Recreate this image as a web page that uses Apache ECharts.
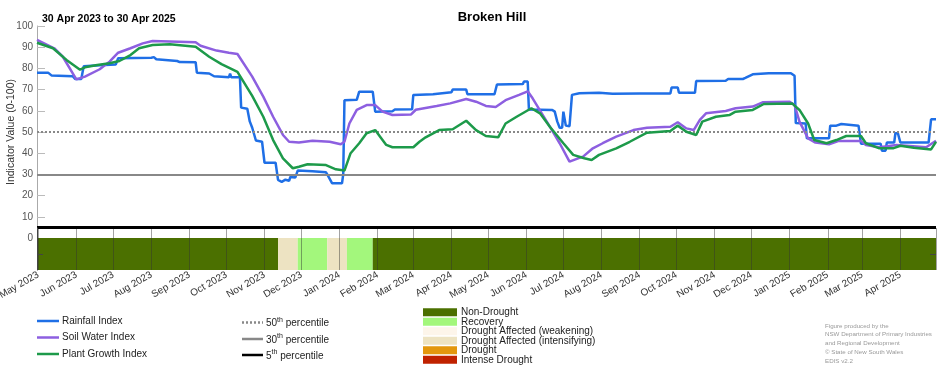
<!DOCTYPE html>
<html>
<head>
<meta charset="utf-8">
<script src="https://cdn.jsdelivr.net/npm/echarts@6/dist/echarts.min.js"></script>
<style>
html,body{margin:0;padding:0;background:#fff;}
#chart{width:952px;height:370px;}
</style>
</head>
<body>
<div id="chart"></div>
<script>
// ---------------- DATA ----------------
const chartTitle = 'Broken Hill';
const periodLabel = '30 Apr 2023 to 30 Apr 2025';
const dateMin = '2023-04-30';
const dateMax = '2025-04-30';
const monthNames = ['Jan','Feb','Mar','Apr','May','Jun','Jul','Aug','Sep','Oct','Nov','Dec'];
const yTickLabels = [0,10,20,30,40,50,60,70,80,90,100];

const rainfallIndex = [
 ['2023-04-30',78],['2023-05-09',78],['2023-05-12',76.6],['2023-05-29',76.3],['2023-05-31',75],['2023-06-05',75],
 ['2023-06-07',81],['2023-06-20',81.5],['2023-07-03',81.8],['2023-07-05',84.8],['2023-08-01',85],['2023-08-03',85.3],
 ['2023-08-05',84.3],['2023-08-22',83.5],['2023-08-24',83],['2023-09-06',82.9],['2023-09-07',78],['2023-09-17',77.6],
 ['2023-09-21',76.3],['2023-10-03',75.8],['2023-10-04',77.5],['2023-10-05',75.8],['2023-10-12',75.8],['2023-10-13',61.5],
 ['2023-10-18',61],['2023-10-20',55],['2023-10-22',52],['2023-10-25',46],['2023-10-30',45.4],['2023-11-01',35.5],
 ['2023-11-10',35.5],['2023-11-12',27.4],['2023-11-15',26.5],['2023-11-18',27.5],['2023-11-21',27],['2023-11-22',28.8],
 ['2023-11-26',28.5],['2023-11-28',31.8],['2023-12-10',31.5],['2023-12-21',31],['2023-12-22',30],['2023-12-26',25.8],
 ['2024-01-03',25.8],['2024-01-04',30],['2024-01-05',65],['2024-01-15',65.2],['2024-01-17',69],['2024-01-28',69],
 ['2024-01-30',59.6],['2024-02-13',59.8],['2024-02-15',60.6],['2024-02-29',60.7],['2024-03-01',67.5],['2024-03-17',67.8],
 ['2024-03-18',68.7],['2024-04-01',68.8],['2024-04-02',70],['2024-04-13',70],['2024-04-14',67.8],['2024-05-06',67.8],
 ['2024-05-08',72.4],['2024-05-29',72.6],['2024-05-30',73.8],['2024-06-02',73.8],['2024-06-03',60.6],['2024-06-22',60.4],
 ['2024-06-24',59.6],['2024-06-26',55],['2024-06-28',52],['2024-06-30',52],['2024-07-01',59.6],['2024-07-02',59.6],
 ['2024-07-03',53],['2024-07-06',52.7],['2024-07-08',67.5],['2024-07-14',68.3],['2024-07-30',68.5],['2024-08-10',68.0],
 ['2024-09-01',68.2],['2024-09-26',68.2],['2024-09-27',71],['2024-10-02',71],['2024-10-03',68.5],['2024-10-16',68.5],
 ['2024-10-17',74],['2024-11-10',74.2],['2024-11-12',75],['2024-11-24',75],['2024-11-26',75.5],['2024-12-02',77.2],
 ['2024-12-15',77.7],['2025-01-02',77.7],['2025-01-05',76.5],['2025-01-06',54.2],['2025-01-14',54],['2025-01-15',47],
 ['2025-02-02',47],['2025-02-03',53],['2025-02-08',53],['2025-02-09',53.8],['2025-02-12',53.8],['2025-02-13',53],
 ['2025-02-26',53],['2025-02-28',44.5],['2025-03-16',44.5],['2025-03-17',41.2],['2025-03-20',41.2],['2025-03-21',45],
 ['2025-03-27',45],['2025-03-28',49.4],['2025-03-30',49.4],['2025-04-01',45.1],['2025-04-24',45.1],['2025-04-26',56],
 ['2025-04-30',56]
];

const soilWaterIndex = [
 ['2023-04-30',93.4],['2023-05-14',89.5],['2023-05-21',85.5],['2023-06-01',74.8],['2023-06-08',76.1],['2023-06-20',79.6],
 ['2023-06-28',83.2],['2023-07-05',87.4],['2023-07-15',89.5],['2023-07-25',91.8],['2023-08-02',92.9],['2023-09-06',92.3],
 ['2023-09-10',90.7],['2023-09-23',88.4],['2023-10-03',87.4],['2023-10-10',86.8],['2023-10-22',76.1],['2023-10-31',66.7],
 ['2023-11-08',57.2],['2023-11-16',48.6],['2023-11-21',45.4],['2023-11-29',45],['2023-12-10',45.9],['2023-12-24',45.4],
 ['2024-01-02',44.2],['2024-01-05',45.4],['2024-01-09',54],['2024-01-15',60.4],['2024-01-23',62.7],['2024-01-30',62.7],
 ['2024-02-05',59.6],['2024-02-13',58],['2024-02-28',58.2],['2024-03-03',60.5],['2024-03-20',62.3],['2024-03-31',63.5],
 ['2024-04-13',65.6],['2024-04-21',64.3],['2024-04-29',62.3],['2024-05-07',61.8],['2024-05-15',65],['2024-05-26',67.5],
 ['2024-06-02',69.2],['2024-06-06',65.9],['2024-06-20',52.5],['2024-06-28',44.7],['2024-07-06',36],['2024-07-13',37.6],
 ['2024-07-17',38.4],['2024-07-25',42.3],['2024-08-02',44.7],['2024-08-13',47.8],['2024-08-27',50.9],['2024-09-07',52],
 ['2024-09-26',52.5],['2024-10-02',54.6],['2024-10-09',51.7],['2024-10-15',50.9],['2024-10-20',55.7],['2024-10-25',58.8],
 ['2024-11-10',59.9],['2024-11-18',61.2],['2024-12-02',62],['2024-12-10',64],['2025-01-01',64.3],['2025-01-05',62.7],
 ['2025-01-09',54.9],['2025-01-16',47],['2025-01-22',45],['2025-02-02',44.2],['2025-02-10',45.8],['2025-02-28',45.8],
 ['2025-03-04',43.9],['2025-03-15',42.8],['2025-03-29',43.9],['2025-04-22',42.8],['2025-04-30',45.9]
];

const plantGrowthIndex = [
 ['2023-04-30',92.1],['2023-05-13',89.5],['2023-05-24',84],['2023-06-04',79.4],['2023-06-08',80.5],['2023-06-18',81.6],
 ['2023-06-28',82.4],['2023-07-06',83.5],['2023-07-15',86.3],['2023-07-22',89.5],['2023-08-02',91],['2023-08-16',91.4],
 ['2023-09-06',90.2],['2023-09-17',85.5],['2023-09-27',82],['2023-10-10',78.4],['2023-10-22',67],['2023-10-31',57.2],
 ['2023-11-08',46.2],['2023-11-16',37.6],['2023-11-24',32.9],['2023-11-29',33.6],['2023-12-06',34.8],['2023-12-21',34.4],
 ['2023-12-29',32.4],['2024-01-05',31.8],['2024-01-10',40],['2024-01-17',44.7],['2024-01-23',49.4],['2024-01-30',50.9],
 ['2024-02-03',47.8],['2024-02-08',43.9],['2024-02-13',42.8],['2024-03-01',42.8],['2024-03-06',45.4],['2024-03-11',47.5],
 ['2024-03-22',50.9],['2024-04-02',51.3],['2024-04-13',55.3],['2024-04-21',50.9],['2024-04-29',48.1],['2024-05-09',47.5],
 ['2024-05-15',54],['2024-05-24',57.2],['2024-06-05',61.2],['2024-06-12',58.8],['2024-06-20',52.5],['2024-07-01',44.7],
 ['2024-07-09',39.2],['2024-07-18',37.6],['2024-07-24',36.8],['2024-07-30',39.2],['2024-08-13',42.3],['2024-08-24',45.4],
 ['2024-09-07',49.7],['2024-09-26',50.5],['2024-10-02',53],['2024-10-09',50.1],['2024-10-17',48.6],['2024-10-22',54.9],
 ['2024-11-02',57.2],['2024-11-13',58],['2024-11-18',59.6],['2024-12-02',60.4],['2024-12-11',63.2],['2025-01-03',63.5],
 ['2025-01-09',60.4],['2025-01-16',54],['2025-01-21',46.2],['2025-01-31',44.7],['2025-02-08',46.2],['2025-02-16',48.1],
 ['2025-02-28',48.1],['2025-03-04',44.7],['2025-03-15',42.3],['2025-03-26',42.3],['2025-04-01',43.5],['2025-04-12',42.6],
 ['2025-04-26',41.8],['2025-04-30',45.4]
];

const seriesNames = ['Rainfall Index','Soil Water Index','Plant Growth Index'];
const seriesColors = ['#1f6fe6','#8d5fe0','#1d9a4a'];

const percentileLevels = [50, 30, 5];
const percentileOrdinals = ['50','30','5'];
const percentileColors = ['#888888','#888888','#000000'];
const percentileTypes = ['dotted','solid','solid'];
const percentileWidths = [2, 2, 3];

const droughtCategories = ['Non-Drought','Recovery','Drought Affected (weakening)','Drought Affected (intensifying)','Drought','Intense Drought'];
const droughtColors = ['#4b7000','#a3f77c','#fdf5ea','#ede3c2','#e3970d','#c02200'];

const phaseStart = ['2023-04-30','2023-11-12','2023-11-28','2023-12-22','2024-01-07','2024-01-28'];
const phaseEnd   = ['2023-11-12','2023-11-28','2023-12-22','2024-01-07','2024-01-28','2025-04-30'];
const phaseClass = ['Non-Drought','Drought Affected (intensifying)','Recovery','Drought Affected (intensifying)','Recovery','Non-Drought'];

const footnoteLines = ['Figure produced by the','NSW Department of Primary Industries','and Regional Development','\u00A9 State of New South Wales','EDIS v2.2'];

// ---------------- CHART ----------------
const FONT = '"Liberation Sans", Arial, sans-serif';
const chart = echarts.init(document.getElementById('chart'), null, {renderer:'canvas'});

const phaseAreas = phaseStart.map((s, i) => [
  {xAxis: s, yAxis: 0, itemStyle: {color: droughtColors[droughtCategories.indexOf(phaseClass[i])], opacity: 1}},
  {xAxis: phaseEnd[i], yAxis: 1}
]);

const graphics = [];
// series legend
const serRowY = [321, 337.5, 354];
seriesNames.forEach((n, i) => {
  graphics.push({type:'line', shape:{x1:37, y1:serRowY[i], x2:59, y2:serRowY[i]}, style:{stroke:seriesColors[i], lineWidth:2.5}});
  graphics.push({type:'text', x:62, y:serRowY[i], style:{text:n, font:'10px '+FONT, fill:'#222', verticalAlign:'middle'}});
});
// percentile legend
const pctRowY = [322.5, 339, 355];
percentileLevels.forEach((p, i) => {
  graphics.push({type:'line', shape:{x1:242, y1:pctRowY[i], x2:263, y2:pctRowY[i]},
    style:{stroke:percentileColors[i], lineWidth:2.5, lineDash: percentileTypes[i]==='dotted' ? [2,2] : null}});
  graphics.push({type:'text', x:266, y:pctRowY[i]-6, style:{
    text:'{b|'+percentileOrdinals[i]+'}{s|th}{b| percentile}',
    rich:{b:{fontSize:10, fontFamily:FONT, fill:'#222', lineHeight:12, verticalAlign:'bottom'},
          s:{fontSize:7, fontFamily:FONT, fill:'#222', lineHeight:12, verticalAlign:'top'}},
    verticalAlign:'top'}});
});
// drought legend
const drRowY = [312.3, 321.8, 331.3, 340.8, 350.3, 359.8];
droughtCategories.forEach((c, i) => {
  graphics.push({type:'rect', shape:{x:423, y:drRowY[i]-4, width:34, height:8}, style:{fill:droughtColors[i]}});
  graphics.push({type:'text', x:461, y:drRowY[i], style:{text:c, font:'10px '+FONT, fill:'#222', verticalAlign:'middle'}});
});
// footnote
footnoteLines.forEach((t, i) => {
  graphics.push({type:'text', x:825, y:326 + i*8.7, style:{text:t, font:'6.2px '+FONT, fill:'#999', verticalAlign:'middle'}});
});

const option = {
  animation: false,
  backgroundColor: '#fff',
  textStyle: {fontFamily: FONT},
  title: [
    {text: chartTitle, left: 487, top: 6, textAlign: 'center', textStyle:{fontSize:13, fontWeight:'bold', color:'#000', fontFamily:FONT}},
    {text: periodLabel, left: 37, top: 9, textStyle:{fontSize:10.5, fontWeight:'bold', color:'#000', fontFamily:FONT}}
  ],
  grid: [
    {left: 37, right: 16, top: 26, height: 212, outerBoundsMode: 'none', containLabel: false},
    {left: 37, right: 16, top: 228, height: 42, outerBoundsMode: 'none', containLabel: false}
  ],
  xAxis: [
    {type:'time', gridIndex:0, min:dateMin, max:dateMax, show:false},
    {type:'time', gridIndex:1, min:dateMin, max:dateMax, z: 5,
     splitNumber: 24, minInterval: 28*86400000, maxInterval: 31*86400000,
     axisLine:{show:false}, axisTick:{show:false},
     splitLine:{show:true, lineStyle:{color:'rgba(50,50,50,0.45)', width:1}},
     axisLabel:{rotate:30, fontSize:10, color:'#333', margin:4, fontFamily:FONT,
       formatter: function(v){ const d = new Date(v); if (d.getDate() !== 1) return ''; return monthNames[d.getMonth()] + ' ' + d.getFullYear(); }}
    }
  ],
  yAxis: [
    {type:'value', gridIndex:0, min:0, max:100, interval:10,
     name:'Indicator Value (0-100)', nameLocation:'middle', nameGap:20, nameMoveOverlap:false,
     nameTextStyle:{fontSize:10.5, color:'#333', fontFamily:FONT},
     axisLine:{show:true, lineStyle:{color:'#aaa', width:1}},
     axisTick:{show:true, inside:true, length:8, lineStyle:{color:'#bbb'}},
     axisLabel:{fontSize:10, color:'#555', margin:4, fontFamily:FONT,
       formatter: v => yTickLabels.indexOf(v) >= 0 ? String(v) : ''},
     splitLine:{show:false}},
    {type:'value', gridIndex:1, min:0, max:42/32, z: 5,
     axisLine:{show:true, lineStyle:{color:'#444', width:1}},
     axisTick:{show:true, inside:true, length:6, customValues:[0.5], lineStyle:{color:'#444'}},
     axisLabel:{show:false}, splitLine:{show:false}},
    {type:'value', gridIndex:1, position:'right', min:0, max:42/32, z: 5,
     axisLine:{show:false},
     axisTick:{show:true, inside:true, length:6, customValues:[0.5], lineStyle:{color:'#444'}},
     axisLabel:{show:false}, splitLine:{show:false}}
  ],
  graphic: graphics,
  series: [
    {type:'line', name:'percentiles', xAxisIndex:0, yAxisIndex:0, data:[], z:1, silent:true,
     markLine:{silent:true, symbol:['none','none'], label:{show:false},
       data: percentileLevels.map((p, i) => ({yAxis:p, lineStyle:{color:percentileColors[i], type:percentileTypes[i], width:percentileWidths[i]}}))}},
    ...seriesNames.map((n, i) => ({
      type:'line', name:n, xAxisIndex:0, yAxisIndex:0,
      data: [rainfallIndex, soilWaterIndex, plantGrowthIndex][i],
      showSymbol:false, symbol:'none', smooth:false, z: 3 + i,
      lineStyle:{color:seriesColors[i], width:2.5}, itemStyle:{color:seriesColors[i]}
    })),
    {type:'line', name:'phase', xAxisIndex:1, yAxisIndex:1, z:1, silent:true,
     data:[[dateMin, -1],[dateMax, -1]], showSymbol:false, symbol:'none', lineStyle:{opacity:0},
     markArea:{silent:true, data: phaseAreas}}
  ]
};
chart.setOption(option);
</script>
</body>
</html>
